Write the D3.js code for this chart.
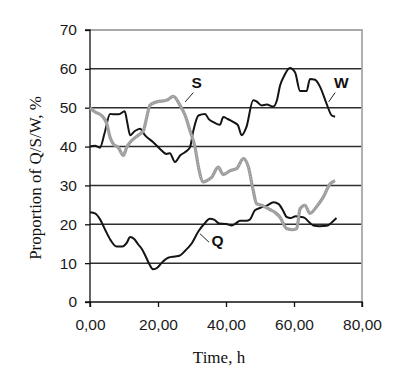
<!DOCTYPE html>
<html>
<head>
<meta charset="utf-8">
<script src="https://cdn.jsdelivr.net/npm/d3@7"></script>
<style>
  html, body { margin: 0; padding: 0; background: #fff; }
  svg { display: block; }
</style>
</head>
<body>
<svg id="chart" width="414" height="375"></svg>
<script>
// ---- data ----
const xTicks = [0, 20, 40, 60, 80];
const yTicks = [0, 10, 20, 30, 40, 50, 60, 70];

const qTime = [0, 1.5, 3, 4.5, 6, 7.8, 9.5, 10.8, 11.8, 13, 14.2, 15.3, 16.5, 17.6, 18.6, 19.8, 21, 23, 25, 26.3, 28, 30, 31.9, 33.5, 35.3, 36.5, 38, 40, 41.7, 43, 44.1, 46, 47, 48.5, 50, 52, 54, 55.5, 56.8, 57.8, 59, 60.5, 61.7, 63, 64.5, 65.7, 67.5, 69.6, 71, 72.5];
const qVal  = [23.1, 22.8, 21.2, 18.5, 16, 14.3, 14.3, 15.2, 16.7, 16.2, 14.8, 13.6, 11.5, 9.5, 8.4, 8.8, 10, 11.4, 11.7, 11.9, 13.2, 15.2, 18.2, 20, 21.4, 21.2, 20.2, 20.1, 19.7, 20.3, 20.9, 20.9, 21.2, 23.6, 24.2, 24.8, 25.7, 25.2, 23.5, 21.9, 21.6, 22.1, 21.9, 21.7, 20.5, 19.7, 19.5, 19.6, 20.4, 21.6];

const wTime = [0, 1.5, 2.9, 4.3, 5.9, 7, 8.5, 10.2, 11, 11.8, 13.2, 14.7, 16.2, 18.6, 20.6, 22.5, 23.5, 25, 26.5, 28, 29.4, 30.4, 31.9, 33.8, 35, 36.3, 38.2, 39.2, 40.5, 42.2, 43.5, 44.6, 46, 48, 49, 50.5, 52, 53.9, 55, 55.9, 57, 58.8, 60.3, 61.8, 63.7, 64.7, 66.2, 67.7, 69.6, 71.1, 72.1];
const wVal  = [40, 40.2, 39.7, 43.5, 48.4, 48.3, 48.3, 49.1, 46, 42.9, 44, 44.6, 42.9, 41.1, 39.4, 38.1, 38.3, 36, 37.7, 38.6, 39.8, 44.1, 48, 48.4, 47, 46.3, 45.6, 47.6, 47.1, 46.3, 45.5, 42.9, 45, 51.9, 51.6, 50.6, 50.8, 50.3, 52, 55.7, 58, 60.2, 59.1, 54.3, 54.3, 57.4, 57.2, 55.3, 51, 48, 47.7];

const sTime = [0, 1.5, 3.4, 4.9, 5.9, 6.9, 8.3, 9.8, 10.8, 12.2, 14.2, 15.7, 16.7, 17.6, 19.6, 22.5, 24.5, 26.5, 28, 29.4, 30.9, 31.9, 33.3, 34.5, 35.8, 37.7, 39.2, 41.2, 43.1, 45.1, 46.6, 48, 49, 50.5, 52.9, 54.5, 55.9, 57.8, 59.5, 60.8, 61.8, 63.2, 64.7, 66.7, 68.6, 70.6, 72.1];
const sVal  = [50, 48.9, 48, 46, 42.4, 40.6, 39.8, 37.7, 39.8, 41.5, 42.9, 44.1, 47.6, 50.6, 51.5, 51.9, 52.9, 50.6, 48, 44.1, 39.8, 34.7, 30.9, 31.3, 32.1, 34.7, 32.8, 33.8, 34.3, 36.9, 34.7, 28.7, 25.3, 24.9, 23.8, 23, 21.8, 18.9, 18.6, 18.9, 24, 24.9, 22.8, 24.6, 27, 30.4, 31.2];

const seriesLabels = ["Q", "S", "W"];

// ---- layout ----
const svg = d3.select("#chart");
const plot = { left: 90, right: 362, top: 30, bottom: 302 };

const x = d3.scaleLinear().domain([0, 80]).range([plot.left, plot.right]);
const y = d3.scaleLinear().domain([0, 70]).range([plot.bottom, plot.top]);

const fmtX = v => d3.format(".2f")(v).replace(".", ",");

// gridlines
svg.append("g")
  .selectAll("line")
  .data(yTicks.filter(v => v > 0 && v < 70))
  .join("line")
  .attr("x1", plot.left).attr("x2", plot.right)
  .attr("y1", d => y(d)).attr("y2", d => y(d))
  .attr("stroke", "#2e2e2e").attr("stroke-width", 1.5);

// plot border (top/right gray)
svg.append("path")
  .attr("d", `M${plot.left},${plot.top}H${plot.right}V${plot.bottom}`)
  .attr("fill", "none").attr("stroke", "#a8a8a8").attr("stroke-width", 1.8);

// axes
const yAxis = d3.axisLeft(y).tickValues(yTicks).tickSize(5).tickPadding(8).tickFormat(d3.format("d"));
const xAxis = d3.axisBottom(x).tickValues(xTicks).tickSize(5).tickPadding(12).tickFormat(fmtX);

const gy = svg.append("g").attr("transform", `translate(${plot.left},0)`).call(yAxis);
const gx = svg.append("g").attr("transform", `translate(0,${plot.bottom})`).call(xAxis);

[gy, gx].forEach(g => {
  g.select(".domain").attr("stroke", "#111").attr("stroke-width", 1.3);
  g.selectAll(".tick line").attr("stroke", "#111").attr("stroke-width", 1.3);
  g.selectAll(".tick text")
    .attr("fill", "#1a1a1a")
    .style("font-family", "Arial, 'Liberation Sans', sans-serif")
    .style("font-size", "15.5px");
});
gy.select(".domain").attr("d", `M-5,${plot.top}H0V${plot.bottom}H-5`);
gx.select(".domain").attr("d", `M${plot.left},5V0H${plot.right}V5`);

// lines
const line = d3.line().x(d => x(d[0])).y(d => y(d[1])).curve(d3.curveMonotoneX);
const qData = d3.zip(qTime, qVal);
const wData = d3.zip(wTime, wVal);
const sData = d3.zip(sTime, sVal);

svg.append("path").datum(qData).attr("d", line)
  .attr("fill", "none").attr("stroke", "#141414").attr("stroke-width", 2);
svg.append("path").datum(wData).attr("d", line)
  .attr("fill", "none").attr("stroke", "#141414").attr("stroke-width", 2);
svg.append("path").datum(sData).attr("d", line)
  .attr("fill", "none").attr("stroke", "#9c9c9c").attr("stroke-width", 3.2);
svg.append("path").datum(sData).attr("d", line)
  .attr("fill", "none").attr("stroke", "#c4c4c4").attr("stroke-width", 1)
  .attr("stroke-dasharray", "1,2");

// series labels with leader lines (anchored in data space)
const labelSpec = [
  { name: seriesLabels[0], tx: 37.5, ty: 14.4, lx1: 35.0, ly1: 15.4, lx2: 32.3, ly2: 17.6 },
  { name: seriesLabels[1], tx: 31.4, ty: 55.0, lx1: 30.4, ly1: 53.9, lx2: 28.0, ly2: 51.5 },
  { name: seriesLabels[2], tx: 73.9, ty: 55.0, lx1: 72.1, ly1: 53.9, lx2: 70.2, ly2: 51.5 }
];
const lab = svg.append("g");
lab.selectAll("line").data(labelSpec).join("line")
  .attr("x1", d => x(d.lx1)).attr("y1", d => y(d.ly1))
  .attr("x2", d => x(d.lx2)).attr("y2", d => y(d.ly2))
  .attr("stroke", "#222").attr("stroke-width", 1);
lab.selectAll("text").data(labelSpec).join("text")
  .attr("x", d => x(d.tx)).attr("y", d => y(d.ty))
  .attr("text-anchor", "middle")
  .style("font-family", "Arial, 'Liberation Sans', sans-serif")
  .style("font-size", "15.5px").style("font-weight", "bold")
  .attr("fill", "#111")
  .text(d => d.name);

// axis titles
svg.append("text")
  .attr("x", 219).attr("y", 363)
  .attr("text-anchor", "middle")
  .style("font-family", "'Times New Roman', 'Liberation Serif', serif")
  .style("font-size", "17px").attr("fill", "#111")
  .text("Time, h");

svg.append("text")
  .attr("transform", "translate(41,178) rotate(-90)")
  .attr("text-anchor", "middle")
  .style("font-family", "'Times New Roman', 'Liberation Serif', serif")
  .style("font-size", "17px").attr("fill", "#111")
  .text("Proportion of Q/S/W, %");
</script>
</body>
</html>
